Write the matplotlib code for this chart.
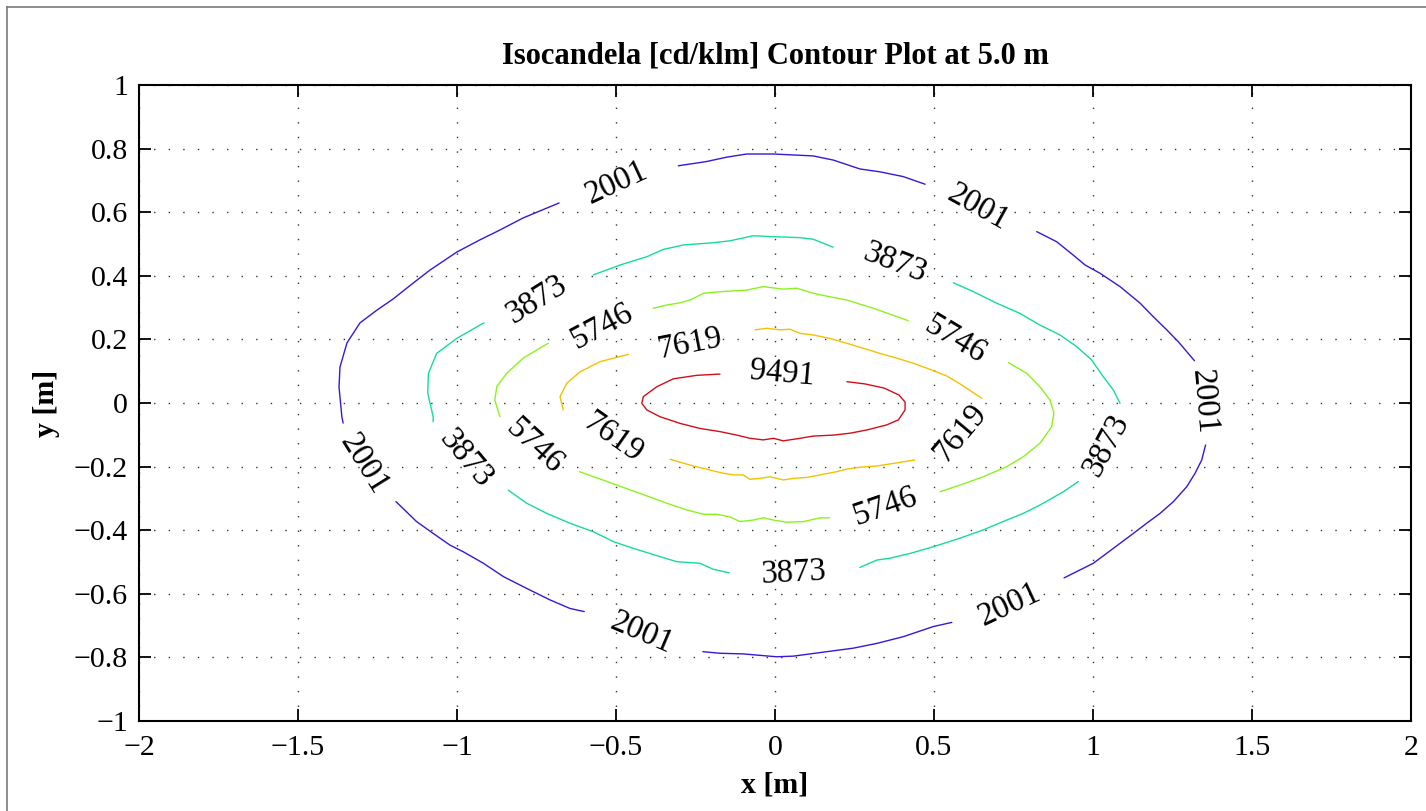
import matplotlib
matplotlib.use("Agg")
import matplotlib.pyplot as plt
from matplotlib.lines import Line2D

# ---------------- data ----------------
levels = [2001, 3873, 5746, 7619, 9491]
level_colors = ["#3b16d6", "#14dc9a", "#8cf21e", "#f2c200", "#d0101a"]

# contour pieces (x [m], y [m]), split at the labels
c2001 = [
    [(-1.358, -0.063), (-1.362, -0.044), (-1.371, 0.050), (-1.368, 0.113), (-1.346, 0.189),
     (-1.305, 0.252), (-1.252, 0.292), (-1.201, 0.327), (-1.138, 0.377), (-1.085, 0.418),
     (-1.000, 0.475), (-0.928, 0.513), (-0.865, 0.544), (-0.792, 0.582), (-0.679, 0.629)],
    [(-0.304, 0.746), (-0.217, 0.759), (-0.152, 0.773), (-0.089, 0.783), (-0.005, 0.783),
     (0.120, 0.777), (0.183, 0.764), (0.267, 0.736), (0.330, 0.727), (0.403, 0.712),
     (0.472, 0.688)],
    [(0.823, 0.539), (0.886, 0.507), (0.938, 0.465), (0.975, 0.434), (1.022, 0.408),
     (1.085, 0.366), (1.148, 0.314), (1.190, 0.271), (1.232, 0.230), (1.268, 0.193),
     (1.319, 0.133)],
    [(1.354, -0.132), (1.342, -0.179), (1.321, -0.221), (1.295, -0.263), (1.253, -0.310),
     (1.211, -0.347), (1.169, -0.378), (1.127, -0.410), (1.064, -0.457), (1.001, -0.504),
     (0.959, -0.525), (0.909, -0.550)],
    [(0.556, -0.690), (0.498, -0.703), (0.403, -0.735), (0.320, -0.756), (0.246, -0.771),
     (0.163, -0.782), (0.058, -0.796), (0.005, -0.798), (-0.100, -0.789), (-0.173, -0.787),
     (-0.227, -0.782)],
    [(-0.600, -0.656), (-0.645, -0.646), (-0.708, -0.619), (-0.781, -0.583), (-0.854, -0.546),
     (-0.917, -0.504), (-0.980, -0.468), (-1.022, -0.447), (-1.075, -0.410), (-1.127, -0.373),
     (-1.192, -0.310)],
]
c3873 = [
    [(-1.075, -0.059), (-1.075, -0.043), (-1.092, 0.031), (-1.090, 0.093), (-1.064, 0.156),
     (-1.001, 0.203), (-0.928, 0.245), (-0.915, 0.252)],
    [(-0.571, 0.403), (-0.487, 0.434), (-0.403, 0.460), (-0.351, 0.483), (-0.288, 0.497),
     (-0.194, 0.504), (-0.142, 0.510), (-0.068, 0.526), (-0.005, 0.523), (0.079, 0.520),
     (0.120, 0.515), (0.183, 0.490)],
    [(0.561, 0.378), (0.624, 0.350), (0.697, 0.314), (0.770, 0.282), (0.833, 0.245),
     (0.896, 0.214), (0.949, 0.177), (0.996, 0.135), (1.032, 0.083), (1.064, 0.041),
     (1.085, -0.001)],
    [(0.954, -0.247), (0.907, -0.279), (0.833, -0.321), (0.781, -0.347), (0.729, -0.368),
     (0.655, -0.399), (0.582, -0.425), (0.498, -0.452), (0.425, -0.473), (0.362, -0.488),
     (0.320, -0.494), (0.267, -0.517)],
    [(-0.144, -0.534), (-0.194, -0.523), (-0.236, -0.504), (-0.309, -0.499), (-0.362, -0.483),
     (-0.446, -0.457), (-0.508, -0.436), (-0.571, -0.405), (-0.645, -0.378), (-0.718, -0.347),
     (-0.781, -0.315), (-0.839, -0.274)],
]
c5746 = [
    [(-0.865, -0.043), (-0.881, 0.009), (-0.875, 0.051), (-0.844, 0.093), (-0.792, 0.141),
     (-0.713, 0.188)],
    [(-0.383, 0.298), (-0.341, 0.308), (-0.299, 0.315), (-0.267, 0.324), (-0.225, 0.345),
     (-0.173, 0.350), (-0.089, 0.355), (-0.037, 0.366), (0.026, 0.358), (0.068, 0.361),
     (0.120, 0.345), (0.173, 0.334), (0.225, 0.324), (0.309, 0.298), (0.419, 0.259)],
    [(0.734, 0.127), (0.792, 0.093), (0.833, 0.051), (0.865, 0.009), (0.877, -0.032),
     (0.870, -0.075), (0.833, -0.127), (0.781, -0.169), (0.729, -0.200), (0.655, -0.232),
     (0.582, -0.258), (0.519, -0.279)],
    [(0.171, -0.361), (0.142, -0.361), (0.089, -0.373), (0.037, -0.375), (-0.005, -0.368),
     (-0.037, -0.361), (-0.068, -0.368), (-0.110, -0.373), (-0.142, -0.358), (-0.183, -0.350),
     (-0.225, -0.350), (-0.278, -0.336), (-0.341, -0.315), (-0.425, -0.284), (-0.498, -0.258),
     (-0.550, -0.239), (-0.615, -0.216)],
]
c7619 = [
    [(-0.666, -0.022), (-0.676, 0.020), (-0.655, 0.062), (-0.613, 0.098), (-0.550, 0.130),
     (-0.461, 0.153)],
    [(-0.063, 0.230), (-0.026, 0.235), (0.016, 0.230), (0.047, 0.232), (0.079, 0.219),
     (0.120, 0.214), (0.173, 0.203), (0.225, 0.188), (0.278, 0.172), (0.330, 0.156),
     (0.383, 0.141), (0.435, 0.125), (0.487, 0.106), (0.540, 0.085), (0.582, 0.060),
     (0.650, 0.015)],
    [(0.440, -0.179), (0.372, -0.190), (0.320, -0.198), (0.267, -0.202), (0.225, -0.208),
     (0.194, -0.216), (0.142, -0.226), (0.100, -0.234), (0.058, -0.237), (0.026, -0.242),
     (-0.016, -0.232), (-0.047, -0.237), (-0.079, -0.240), (-0.100, -0.226), (-0.131, -0.226),
     (-0.163, -0.221), (-0.204, -0.211), (-0.257, -0.198), (-0.330, -0.177)],
]
c9491 = [
    [(-0.173, 0.091), (-0.246, 0.087), (-0.320, 0.076), (-0.372, 0.051), (-0.414, 0.020),
     (-0.419, -0.001), (-0.403, -0.022), (-0.362, -0.043), (-0.299, -0.064), (-0.236, -0.080),
     (-0.173, -0.090), (-0.120, -0.101), (-0.079, -0.111), (-0.037, -0.116), (-0.005, -0.111),
     (0.026, -0.119), (0.079, -0.111), (0.120, -0.104), (0.183, -0.101), (0.236, -0.095),
     (0.288, -0.085), (0.351, -0.069), (0.388, -0.053), (0.409, -0.022), (0.409, 0.003),
     (0.390, 0.025), (0.343, 0.047), (0.283, 0.060), (0.226, 0.067)],
]
contour_pieces = [c2001, c3873, c5746, c7619, c9491]

# contour labels: level, position (m), rotation (deg)
label_level = [2001, 2001, 2001, 2001, 2001, 2001,
               3873, 3873, 3873, 3873, 3873,
               5746, 5746, 5746, 5746,
               7619, 7619, 7619,
               9491]
label_x = [-0.497, 0.638, 1.349, 0.739, -0.419, -1.292,
           -0.749, 0.377, 1.043, 0.058, -0.972,
           -0.545, 0.566, 0.346, -0.755,
           -0.267, 0.582, -0.508,
           0.021]
label_y = [0.692, 0.613, 0.003, -0.635, -0.724, -0.192,
           0.324, 0.439, -0.132, -0.536, -0.176,
           0.240, 0.198, -0.326, -0.137,
           0.188, -0.094, -0.111,
           0.093]
label_rot = [25, -29, -85, 25, -23, -58,
             32, -21, 62, 3, -50,
             28, -31, 19, -43,
             11, 50, -35,
             -5]

x_ticks = [-2, -1.5, -1, -0.5, 0, 0.5, 1, 1.5, 2]
x_tick_labels = ["\u22122", "\u22121.5", "\u22121", "\u22120.5", "0", "0.5", "1", "1.5", "2"]
y_ticks = [-1, -0.8, -0.6, -0.4, -0.2, 0, 0.2, 0.4, 0.6, 0.8, 1]
y_tick_labels = ["\u22121", "\u22120.8", "\u22120.6", "\u22120.4", "\u22120.2", "0",
                 "0.2", "0.4", "0.6", "0.8", "1"]

title = "Isocandela [cd/klm] Contour Plot at 5.0 m"
xlabel = "x [m]"
ylabel = "y [m]"

# ---------------- figure ----------------
SERIF = ["Liberation Serif", "DejaVu Serif"]
plt.rcParams["font.family"] = SERIF

W, H = 1426, 811
fig = plt.figure(figsize=(W / 100, H / 100), dpi=100)
ax = fig.add_axes([139 / W, 1 - 721 / H, 1272 / W, 636 / H])

for pieces, col in zip(contour_pieces, level_colors):
    for seg in pieces:
        xs = [p[0] for p in seg]
        ys = [p[1] for p in seg]
        ax.plot(xs, ys, color=col, lw=1.0, solid_capstyle="round",
                solid_joinstyle="round", zorder=3)

for lv, lx, ly, lr in zip(label_level, label_x, label_y, label_rot):
    ax.text(lx, ly, str(lv), rotation=lr, rotation_mode="anchor",
            ha="center", va="center", fontsize=23.5, color="black", zorder=4)

ax.set_xlim(-2, 2)
ax.set_ylim(-1, 1)
ax.set_xticks(x_ticks)
ax.set_xticklabels(x_tick_labels)
ax.set_yticks(y_ticks)
ax.set_yticklabels(y_tick_labels)
ax.tick_params(direction="in", length=8.5, width=1.3, top=True, right=True,
               labelsize=21.5, pad=8, colors="black")
ax.tick_params(axis="x", pad=10)
for s in ax.spines.values():
    s.set_linewidth(1.5)
ax.grid(True, color="#333333", linestyle=(0, (1, 9.5)), linewidth=1.0)
ax.set_axisbelow(True)

ax.set_title(title, fontsize=22, fontweight="bold", pad=15.5)
ax.set_xlabel(xlabel, fontsize=21.5, fontweight="bold", labelpad=7.5)
ax.set_ylabel(ylabel, fontsize=21.5, fontweight="bold", labelpad=10)

# figure frame (gray outline)
fig.add_artist(Line2D([6.5 / W, 6.5 / W], [0, 1 - 6.5 / H], transform=fig.transFigure,
                      color="#7a7a7a", lw=1.2))
fig.add_artist(Line2D([6.5 / W, 1], [1 - 6.5 / H, 1 - 6.5 / H], transform=fig.transFigure,
                      color="#7a7a7a", lw=1.2))

fig.savefig("out.png", dpi=100)
